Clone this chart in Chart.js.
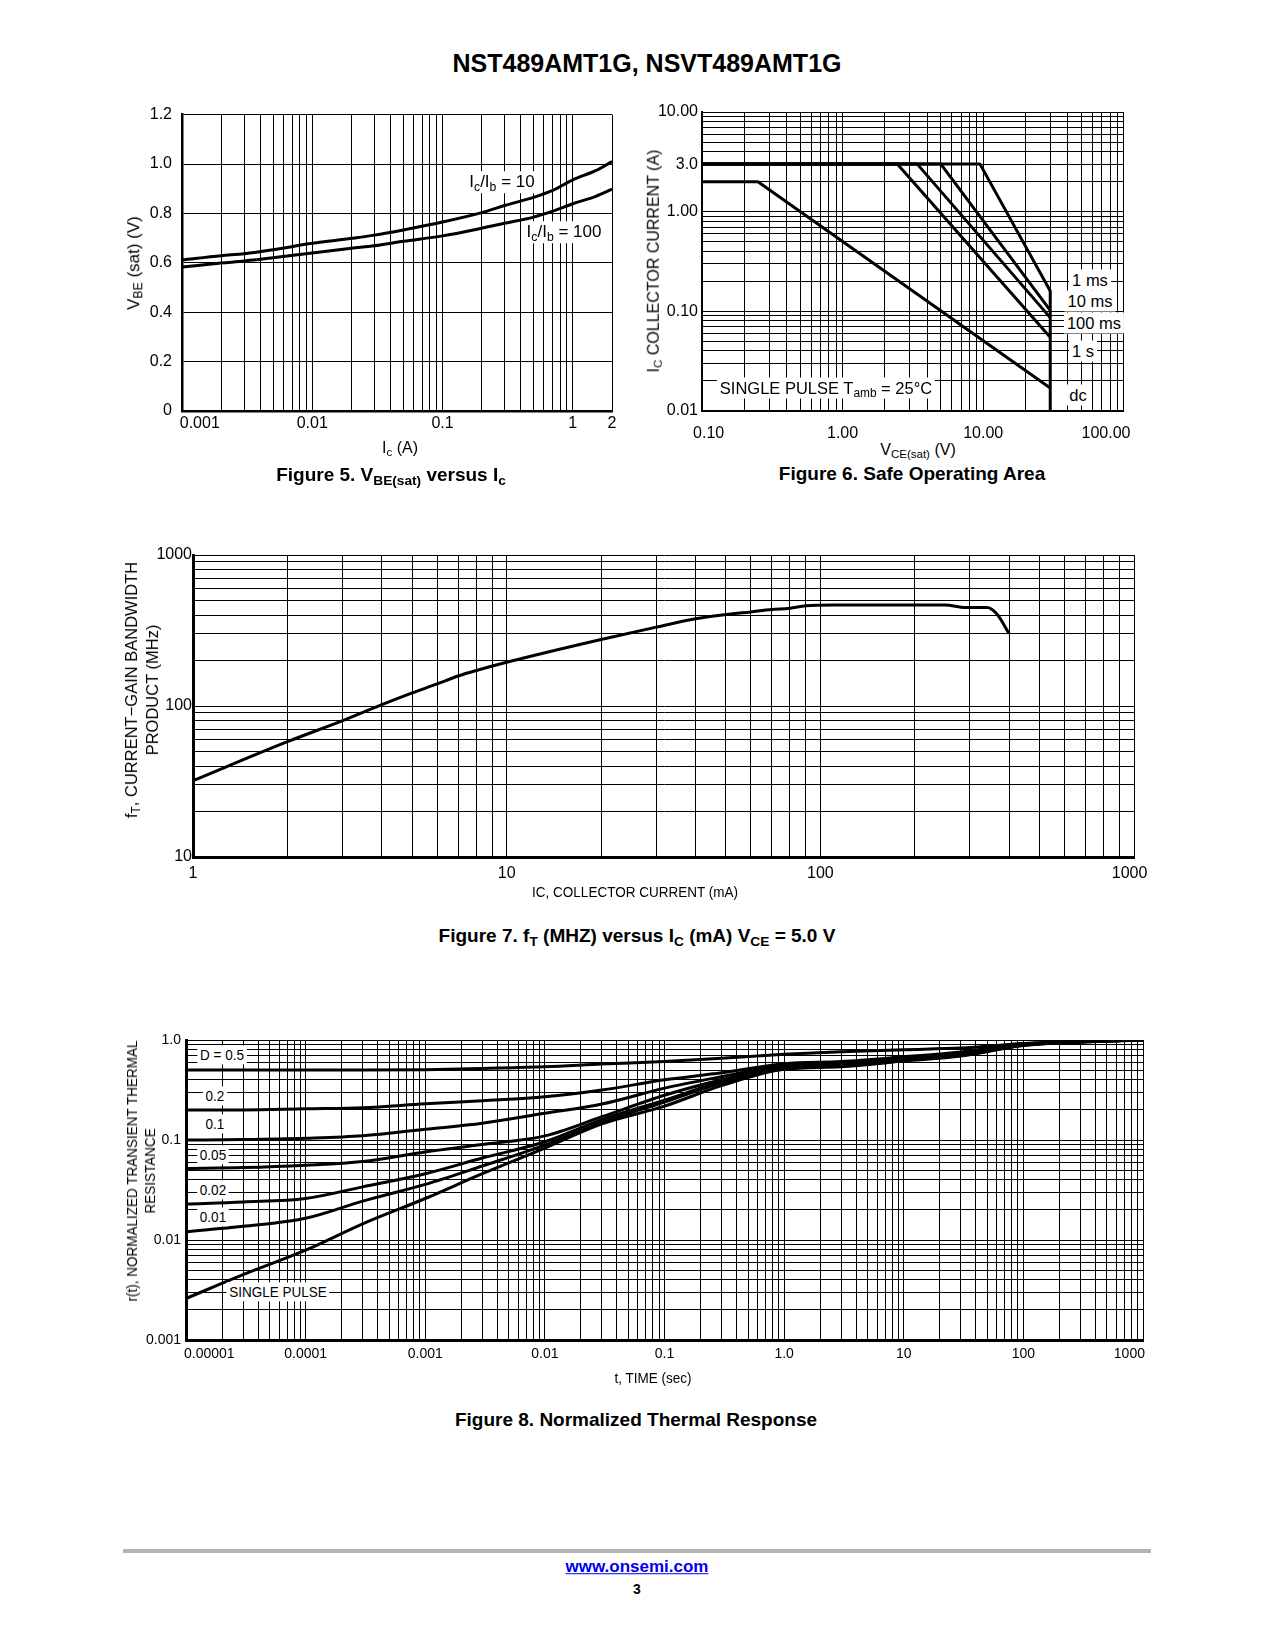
<!DOCTYPE html>
<html>
<head>
<meta charset="utf-8">
<script src="https://cdn.jsdelivr.net/npm/chart.js@4.4.1/dist/chart.umd.min.js"></script>
<style>
  body { margin: 0; background: #fff; }
  #page { position: relative; width: 1275px; height: 1650px; overflow: hidden;
          font-family: 'Liberation Sans', Arial, Helvetica, sans-serif; color: #000; }
  canvas { position: absolute; }
  .t { position: absolute; transform: translate(-50%, -50%); white-space: nowrap; line-height: 1.15; }
  .rot { transform: translate(-50%, -50%) rotate(-90deg); text-align: center; }
  .t.n { transform: translate(-50%, -50%) scaleX(0.9); }
  .t.n.rot { transform: translate(-50%, -50%) rotate(-90deg) scaleX(0.9); }
  .box { background: #fff; padding: 1px 3px; }
  .b { font-weight: bold; }
  sub { font-size: 72%; vertical-align: -0.28em; line-height: 0; }
</style>
</head>
<body>
<div id="page">
  <div class="t b" style="left:647px;top:63px;font-size:25px;">NST489AMT1G, NSVT489AMT1G</div>

  <!-- Figure 5 -->
  <canvas id="fig5" width="540" height="345" style="left:100px;top:95px;"></canvas>
  <div class="t box" style="left:502px;top:182px;font-size:17px;">I<sub>c</sub>/I<sub>b</sub> = 10</div>
  <div class="t box" style="left:564px;top:232px;font-size:17px;">I<sub>c</sub>/I<sub>b</sub> = 100</div>
  <div class="t" style="left:400px;top:448px;font-size:16px;">I<sub>c</sub> (A)</div>
  <div class="t rot" style="left:134px;top:263px;font-size:17px;">V<sub>BE</sub> (sat) (V)</div>
  <div class="t b" style="left:391px;top:475px;font-size:19px;">Figure 5. V<sub>BE(sat)</sub> versus I<sub>c</sub></div>

  <!-- Figure 6 -->
  <canvas id="fig6" width="539" height="345" style="left:640px;top:95px;"></canvas>
  <div class="t box" style="left:826px;top:388px;font-size:16.5px;">SINGLE PULSE T<sub>amb</sub> = 25°C</div>
  <div class="t box" style="left:1090px;top:280px;font-size:16.5px;">1 ms</div>
  <div class="t box" style="left:1090px;top:301px;font-size:16.5px;">10 ms</div>
  <div class="t box" style="left:1094px;top:323px;font-size:16.5px;">100 ms</div>
  <div class="t box" style="left:1083px;top:351px;font-size:16.5px;">1 s</div>
  <div class="t box" style="left:1078px;top:395px;font-size:16.5px;">dc</div>
  <div class="t" style="left:918px;top:450px;font-size:16px;">V<sub>CE(sat)</sub> (V)</div>
  <div class="t rot" style="left:654px;top:261px;font-size:16px;">I<sub>C</sub> COLLECTOR CURRENT (A)</div>
  <div class="t b" style="left:912px;top:474px;font-size:19px;">Figure 6. Safe Operating Area</div>

  <!-- Figure 7 -->
  <canvas id="fig7" width="1070" height="355" style="left:100px;top:535px;"></canvas>
  <div class="t rot" style="left:142px;top:690px;font-size:16.5px;line-height:21px;">f<sub>T</sub>, CURRENT−GAIN BANDWIDTH<br>PRODUCT (MHz)</div>
  <div class="t n" style="left:635px;top:892px;font-size:15px;">IC, COLLECTOR CURRENT (mA)</div>
  <div class="t b" style="left:637px;top:936px;font-size:19px;">Figure 7. f<sub>T</sub> (MHZ) versus I<sub>C</sub> (mA) V<sub>CE</sub> = 5.0 V</div>

  <!-- Figure 8 -->
  <canvas id="fig8" width="1093" height="350" style="left:100px;top:1020px;"></canvas>
  <div class="t n box" style="left:222px;top:1055px;font-size:15px;">D = 0.5</div>
  <div class="t n box" style="left:215px;top:1096px;font-size:15px;">0.2</div>
  <div class="t n box" style="left:215px;top:1124px;font-size:15px;">0.1</div>
  <div class="t n box" style="left:213px;top:1155px;font-size:15px;">0.05</div>
  <div class="t n box" style="left:213px;top:1190px;font-size:15px;">0.02</div>
  <div class="t n box" style="left:213px;top:1217px;font-size:15px;">0.01</div>
  <div class="t n box" style="left:278px;top:1292px;font-size:15px;">SINGLE PULSE</div>
  <div class="t n rot" style="left:141px;top:1171px;font-size:15px;line-height:18px;">r(t), NORMALIZED TRANSIENT THERMAL<br>RESISTANCE</div>
  <div class="t n" style="left:653px;top:1378px;font-size:15px;">t, TIME (sec)</div>
  <div class="t b" style="left:636px;top:1420px;font-size:19px;">Figure 8. Normalized Thermal Response</div>

  <!-- footer -->
  <div style="position:absolute;left:123px;top:1549px;width:1028px;height:4px;background:#b4b4b4;"></div>
  <div class="t b" style="left:637px;top:1567px;font-size:17px;"><a href="#" style="color:#0000ee;">www.onsemi.com</a></div>
  <div class="t b" style="left:637px;top:1589px;font-size:14px;">3</div>
</div>

<script>
// ---- Figure 5: VBE(sat) vs Ic ----
const vbeCurrent = [0.001, 0.002, 0.003, 0.005, 0.01, 0.02, 0.03, 0.05, 0.1, 0.2, 0.3, 0.5, 0.7, 1, 1.5, 2];
const vbeIb10 = [0.612, 0.629, 0.637, 0.653, 0.679, 0.699, 0.712, 0.733, 0.765, 0.803, 0.832, 0.865, 0.893, 0.936, 0.973, 1.01];
const vbeIb100 = [0.583, 0.599, 0.607, 0.620, 0.640, 0.659, 0.669, 0.687, 0.709, 0.740, 0.760, 0.785, 0.809, 0.839, 0.869, 0.898];
const vbeXTicks = [0.001, 0.01, 0.1, 1, 2];
const vbeXLabels = ['0.001', '0.01', '0.1', '1', '2'];
const vbeYTicks = [0, 0.2, 0.4, 0.6, 0.8, 1.0, 1.2];
const vbeYLabels = ['0', '0.2', '0.4', '0.6', '0.8', '1.0', '1.2'];

// ---- Figure 6: safe operating area ----
const soaMaxCurrent = 3.0;
const soaMaxVoltage = 30;
const soaPulseBreak = [9.5, 5.0, 3.4, 2.45];     // V where 1 ms, 10 ms, 100 ms, 1 s leave the 3 A line
const soaPulseEnd = [0.16, 0.102, 0.0865, 0.055]; // A at 30 V
const soaDcVoltage = [0.1, 0.25, 30];
const soaDcCurrent = [2.0, 2.0, 0.017];
const soaXTicks = [0.1, 1, 10, 100];
const soaXLabels = ['0.10', '1.00', '10.00', '100.00'];
const soaYTicks = [0.01, 0.1, 1, 3, 10];
const soaYLabels = ['0.01', '0.10', '1.00', '3.0', '10.00'];

// ---- Figure 7: fT vs Ic ----
const ftCurrent = [1, 2, 3, 4, 5, 6, 7, 8, 10, 20, 30, 40, 50, 60, 70, 80, 90, 110, 200, 250, 290, 340, 365, 400];
const ftMHz = [32, 58, 80, 102, 122, 140, 158, 172, 195, 276, 333, 378, 403, 420, 435, 444, 461, 467, 467, 467, 449, 449, 408, 301];
const ftXTicks = [1, 10, 100, 1000];
const ftXLabels = ['1', '10', '100', '1000'];
const ftYTicks = [10, 100, 1000];
const ftYLabels = ['10', '100', '1000'];

// ---- Figure 8: normalized thermal response ----
const thermTime = [1e-5, 3e-5, 1e-4, 3e-4, 1e-3, 3e-3, 0.01, 0.03, 0.1, 0.3, 1, 3, 10, 30, 100, 300, 1000];
const thermD05 = [0.5, 0.5, 0.5, 0.5, 0.505, 0.52, 0.54, 0.575, 0.61, 0.656, 0.72, 0.765, 0.8, 0.83, 0.92, 0.97, 1.0];
const thermD02 = [0.2, 0.2, 0.205, 0.21, 0.23, 0.247, 0.27, 0.316, 0.40, 0.47, 0.58, 0.61, 0.68, 0.76, 0.91, 0.97, 1.0];
const thermD01 = [0.1, 0.101, 0.104, 0.11, 0.128, 0.147, 0.185, 0.229, 0.33, 0.43, 0.56, 0.59, 0.66, 0.74, 0.90, 0.965, 1.0];
const thermD005 = [0.052, 0.053, 0.056, 0.061, 0.076, 0.09, 0.11, 0.171, 0.28, 0.40, 0.54, 0.57, 0.645, 0.72, 0.895, 0.96, 1.0];
const thermD002 = [0.0229, 0.024, 0.026, 0.034, 0.046, 0.066, 0.096, 0.16, 0.25, 0.385, 0.53, 0.56, 0.635, 0.71, 0.89, 0.96, 1.0];
const thermD001 = [0.0121, 0.0137, 0.0165, 0.0245, 0.036, 0.055, 0.089, 0.15, 0.24, 0.37, 0.52, 0.55, 0.625, 0.70, 0.885, 0.955, 1.0];
const thermSingle = [0.0026, 0.0045, 0.0079, 0.0145, 0.026, 0.046, 0.083, 0.145, 0.218, 0.35, 0.51, 0.54, 0.615, 0.69, 0.88, 0.95, 1.0];
const thermXTicks = [1e-5, 1e-4, 1e-3, 0.01, 0.1, 1, 10, 100, 1000];
const thermXLabels = ['0.00001', '0.0001', '0.001', '0.01', '0.1', '1.0', '10', '100', '1000'];
const thermYTicks = [0.001, 0.01, 0.1, 1];
const thermYLabels = ['0.001', '0.01', '0.1', '1.0'];

Chart.defaults.font.family = "'Liberation Sans', Arial, sans-serif";
Chart.defaults.color = '#000';

function points(xs, ys) {
  return xs.map((x, i) => ({ x: x, y: ys[i] }));
}

function labelFor(value, vals, labels) {
  const i = vals.findIndex(v => Math.abs(v - value) <= 1e-9 + Math.abs(v) * 1e-6);
  return i >= 0 ? labels[i] : '';
}

// grid lines at 1..9 x 10^n
function logGrid(min, max) {
  const out = [];
  for (let e = Math.floor(Math.log10(min)); e <= Math.ceil(Math.log10(max)); e++) {
    for (let k = 1; k <= 9; k++) {
      const v = Number((k * Math.pow(10, e)).toPrecision(10));
      if (v >= min * (1 - 1e-9) && v <= max * (1 + 1e-9)) out.push(v);
    }
  }
  return out;
}

function axis(type, min, max, tickVals, tickLabels, o) {
  const cfg = {
    type: type, min: min, max: max,
    ticks: {
      autoSkip: false, maxRotation: 0, padding: o.pad,
      font: { size: o.size },
      color: '#000',
      callback: (v, i, all) => {
        let s = labelFor(v, tickVals, tickLabels);
        // the datasheet keeps the end labels inside the plot width
        if (s && i === 0 && o.lead) s = ' '.repeat(o.lead) + s;
        if (s && i === all.length - 1 && o.trail) s = s + ' '.repeat(o.trail);
        return s;
      }
    },
    grid: { color: '#000', lineWidth: 1, drawTicks: false },
    border: { color: '#000', width: o.border }
  };
  if (type === 'logarithmic') {
    const g = logGrid(min, max);
    cfg.afterBuildTicks = s => { s.ticks = g.map(v => ({ value: v })); };
  } else {
    cfg.ticks.stepSize = o.step;
  }
  if (o.width) cfg.afterFit = s => { s.width = o.width; };
  if (o.height) cfg.afterFit = s => { s.height = o.height; };
  return cfg;
}

function makeChart(id, datasets, xAxis, yAxis, padRight, padTop) {
  return new Chart(document.getElementById(id), {
    type: 'line',
    data: { datasets: datasets },
    options: {
      responsive: false,
      animation: false,
      devicePixelRatio: 1,
      layout: { padding: { left: 0, right: padRight, top: padTop, bottom: 0 } },
      plugins: { legend: { display: false }, tooltip: { enabled: false } },
      elements: { point: { radius: 0 } },
      scales: { x: xAxis, y: yAxis }
    }
  });
}

function curve(xs, ys, smooth) {
  return {
    data: points(xs, ys),
    borderColor: '#000', borderWidth: 3,
    cubicInterpolationMode: smooth ? 'monotone' : 'default',
    tension: 0, borderJoinStyle: 'round'
  };
}

// Figure 5
makeChart('fig5',
  [curve(vbeCurrent, vbeIb10, true), curve(vbeCurrent, vbeIb100, true)],
  axis('logarithmic', 0.001, 2, vbeXTicks, vbeXLabels, { pad: 3, size: 16, border: 2.5, height: 29, lead: 8 }),
  axis('linear', 0, 1.2, vbeYTicks, vbeYLabels, { pad: 10, size: 16, border: 2.5, width: 82, step: 0.2 }),
  28, 17);

// Figure 6
const soaSets = soaPulseBreak.map((v, i) =>
  curve([0.1, v, soaMaxVoltage], [soaMaxCurrent, soaMaxCurrent, soaPulseEnd[i]], false));
soaSets.push(curve(soaDcVoltage, soaDcCurrent, false));
soaSets.push(curve([soaMaxVoltage, soaMaxVoltage], [soaPulseEnd[0], 0.01], false));
makeChart('fig6', soaSets,
  axis('logarithmic', 0.1, 100, soaXTicks, soaXLabels, { pad: 13, size: 16, border: 2, height: 29, lead: 3, trail: 8 }),
  axis('logarithmic', 0.01, 10, soaYTicks, soaYLabels, { pad: 4, size: 16, border: 2, width: 62 }),
  45, 17);

// Figure 7
makeChart('fig7', [curve(ftCurrent, ftMHz, true)],
  axis('logarithmic', 1, 1000, ftXTicks, ftXLabels, { pad: 7, size: 16, border: 3, height: 33, trail: 2 }),
  axis('logarithmic', 10, 1000, ftYTicks, ftYLabels, { pad: 1, size: 16, border: 3, width: 93 }),
  36, 20);

// Figure 8
makeChart('fig8', [
    curve(thermTime, thermD05, true), curve(thermTime, thermD02, true),
    curve(thermTime, thermD01, true), curve(thermTime, thermD005, true),
    curve(thermTime, thermD002, true), curve(thermTime, thermD001, true),
    curve(thermTime, thermSingle, true)
  ],
  axis('logarithmic', 1e-5, 1000, thermXTicks, thermXLabels, { pad: 6, size: 14, border: 3, height: 30, lead: 12, trail: 7 }),
  axis('logarithmic', 0.001, 1, thermYTicks, thermYLabels, { pad: 5, size: 14, border: 3, width: 86 }),
  50, 20);
</script>
</body>
</html>
